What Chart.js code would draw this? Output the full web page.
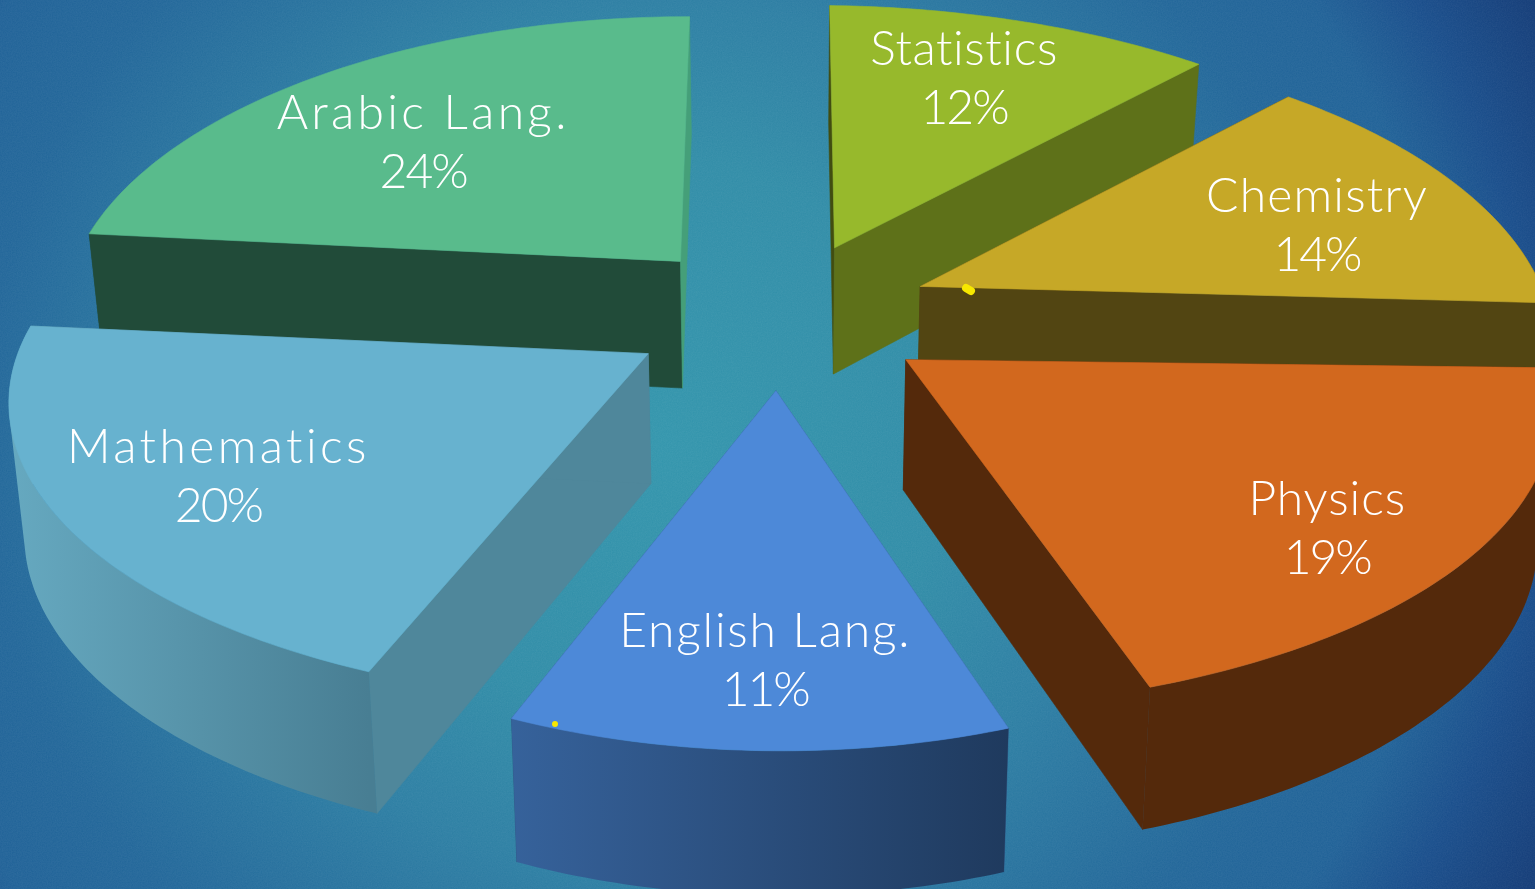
<!DOCTYPE html>
<html lang="en">
  <head>
    <meta charset="UTF-8" />
    <title>Subject shares</title>
    <script src="https://cdn.jsdelivr.net/npm/chart.js"></script>
    <style>
      html, body { margin: 0; height: 100%; overflow: hidden; }
      body {
        background:
          url("data:image/svg+xml,%3Csvg xmlns='http://www.w3.org/2000/svg' width='300' height='300'%3E%3Cfilter id='n'%3E%3CfeTurbulence type='fractalNoise' baseFrequency='.8' numOctaves='2'/%3E%3CfeColorMatrix values='0 0 0 0 1 0 0 0 0 1 0 0 0 0 1 0 0 0 .07 0'/%3E%3C/filter%3E%3Crect width='300' height='300' filter='url(%23n)'/%3E%3C/svg%3E"),
          radial-gradient(ellipse 720px 700px at 660px 440px, #3295ac 0%, #308ca7 40%, #2c7ea3 63%, #216699 94%, #1f6197 110%, #184d8b 122%, #133c78 136%);
      }
      #wrap { position: absolute; inset: 0; width: 1535px; height: 889px; }
    </style>
  </head>
  <body>
    <div id="wrap"><canvas id="pie3d"></canvas></div>

    <script>
      const subjects = ["Statistics", "Chemistry", "Physics", "English Lang.", "Mathematics", "Arabic Lang."];
      const shares = [12, 14, 19, 11, 20, 24];

      const topColors = ["#97b92c", "#c6a827", "#d2681e", "#4d89d8", "#67b2cf", "#59bb8c"];
      const startWallColors = ["#414d10", "#524512", "#54290b", "#2f5585", "#4f879b", "#214b39"];
      const endWallColors = ["#5e7119", "#524512", "#54290b", "#2f5585", "#4f879b", "#459f79"];
      const rimLeftColors = ["#5e7119", "#524512", "#54290b", "#36629b", "#66a9c0", "#214b39"];
      const rimRightColors = ["#5e7119", "#524512", "#54290b", "#1f3a5e", "#487e93", "#214b39"];

      // small per-slice corrections to the slice outline
      const stretchX = [1, 1, 1.02, 0.95, 1.01, 0.97];
      const stretchY = [0.99, 1.025, 1, 1.03, 1, 1];
      const shearX = [0.02, 0, 0, 0.015, 0.022, -0.037];
      const shearY = [0.011, 0.013, 0, 0, 0, 0];

      // how far out along the slice's middle each label sits (1 = rim), then a pixel nudge
      const labelReach = [0.7, 0.7, 0.84, 0.8, 0.75, 0.62];
      const labelNudgeX = [-11, 14, -40, 8, -1, -17];
      const labelNudgeY = [5, 20, 16, 8, 10, 10];
      const labelTracking = [0.6, 1.2, 0.9, 1.8, 3.4, 3.3];

      // back slices first so the nearer ones paint over them
      const paintOrder = [5, 0, 1, 4, 2, 3];

      // perspective of the pie plane on screen
      const view = { cx: 781, cy: 313, a: 620, b: 284, k: 0.21, lift: -10, explodeX: 0.95 };

      function project(u, v) {
        const w = 1 - view.k * v;
        return { x: (view.a * u) / w, y: (view.b * v) / w };
      }

      // the underside is a little narrower and the wall gets taller towards the viewer
      function drop(p) {
        return { x: view.cx + 0.98 * (p.x - view.cx), y: p.y + 117 + 0.037 * p.y };
      }

      function polygon(ctx, pts, fill) {
        ctx.beginPath();
        pts.forEach((p, i) => (i ? ctx.lineTo(p.x, p.y) : ctx.moveTo(p.x, p.y)));
        ctx.closePath();
        ctx.fillStyle = fill;
        ctx.fill();
        ctx.strokeStyle = fill;
        ctx.lineWidth = 0.6;
        ctx.stroke();
      }

      // the rim wall as one path of same-winding quads, so no seams show between steps
      function rimWall(ctx, front, fill) {
        ctx.beginPath();
        for (let s = 1; s < front.length; s++) {
          const q = [front[s - 1], front[s], drop(front[s]), drop(front[s - 1])];
          let area = 0;
          q.forEach((p, n) => {
            const o = q[(n + 1) % 4];
            area += p.x * o.y - o.x * p.y;
          });
          if (area < 0) q.reverse();
          q.forEach((p, n) => (n ? ctx.lineTo(p.x, p.y) : ctx.moveTo(p.x, p.y)));
          ctx.closePath();
        }
        ctx.fillStyle = fill;
        ctx.fill();
      }

      // turns one arc element into its apex and a mapper for the slice surface
      function sliceGeometry(arc, i) {
        const start = arc.startAngle + Math.PI / 2;
        const end = arc.endAngle + Math.PI / 2;
        const mid = (start + end) / 2;
        const e = arc.options.offset / arc.outerRadius;
        const o = project(e * Math.sin(mid), -e * Math.cos(mid));
        const apex = { x: view.cx + o.x * view.explodeX, y: view.cy + o.y };
        const at = (t, r) => {
          const p = project(r * Math.sin(t), -r * Math.cos(t));
          return { x: apex.x + p.x, y: apex.y + p.y + view.lift };
        };
        const edge = (t) => {
          const p = project(Math.sin(t), -Math.cos(t));
          const x = p.x * stretchX[i];
          const y = (p.y + view.lift) * stretchY[i];
          return {
            x: apex.x + x + shearX[i] * y,
            y: apex.y + y + shearY[i] * x,
            front: Math.cos(t) < 0.15,
          };
        };
        const rim = [];
        const steps = Math.ceil((end - start) / 0.015);
        for (let s = 0; s <= steps; s++) rim.push(edge(start + ((end - start) * s) / steps));
        return { mid, apex, at, rim };
      }

      function drawSlice(ctx, arc, i) {
        const g = sliceGeometry(arc, i);
        const first = g.rim[0];
        const last = g.rim[g.rim.length - 1];

        polygon(ctx, [g.apex, first, drop(first), drop(g.apex)], startWallColors[i]);
        polygon(ctx, [g.apex, last, drop(last), drop(g.apex)], endWallColors[i]);

        // only the part of the rim facing the viewer gets a wall
        const front = g.rim.filter((p) => p.front);
        if (front.length > 1) {
          const xs = front.map((p) => p.x);
          const shade = ctx.createLinearGradient(Math.min(...xs), 0, Math.max(...xs), 0);
          shade.addColorStop(0, rimLeftColors[i]);
          shade.addColorStop(1, rimRightColors[i]);
          rimWall(ctx, front, shade);
        }

        polygon(ctx, [g.apex].concat(g.rim), topColors[i]);
      }

      function drawLabel(ctx, arc, i) {
        const g = sliceGeometry(arc, i);
        const p = g.at(g.mid, labelReach[i]);
        const x = p.x + labelNudgeX[i];
        const y = p.y + labelNudgeY[i];
        ctx.fillStyle = "#ffffff";
        ctx.textAlign = "center";
        ctx.textBaseline = "alphabetic";
        ctx.font = "300 48px Lato";
        ctx.letterSpacing = labelTracking[i] + "px";
        ctx.fillText(subjects[i], x, y - 15);
        ctx.letterSpacing = "-2px";
        ctx.fillText(shares[i] + "%", x, y + 44);
        ctx.letterSpacing = "0px";
      }

      const pie3dPlugin = {
        id: "pie3d",
        beforeDatasetsDraw(chart) {
          const ctx = chart.ctx;
          const arcs = chart.getDatasetMeta(0).data;
          ctx.save();
          paintOrder.forEach((i) => drawSlice(ctx, arcs[i], i));
          arcs.forEach((arc, i) => drawLabel(ctx, arc, i));

          // yellow pen marks left on the slides
          ctx.fillStyle = ctx.strokeStyle = "#f7e800";
          ctx.beginPath();
          ctx.arc(555, 724, 3, 0, Math.PI * 2);
          ctx.fill();
          ctx.lineCap = "round";
          ctx.lineWidth = 8;
          ctx.beginPath();
          ctx.moveTo(966, 288);
          ctx.lineTo(971, 291);
          ctx.stroke();
          ctx.restore();
          return false;
        },
      };

      new Chart(document.getElementById("pie3d").getContext("2d"), {
        type: "pie",
        data: {
          labels: subjects,
          datasets: [{ data: shares, backgroundColor: topColors, offset: 102, borderWidth: 0 }],
        },
        options: {
          responsive: true,
          maintainAspectRatio: false,
          animation: false,
          plugins: { legend: { display: false }, tooltip: { enabled: false } },
        },
        plugins: [pie3dPlugin],
      });
    </script>
  </body>
</html>
